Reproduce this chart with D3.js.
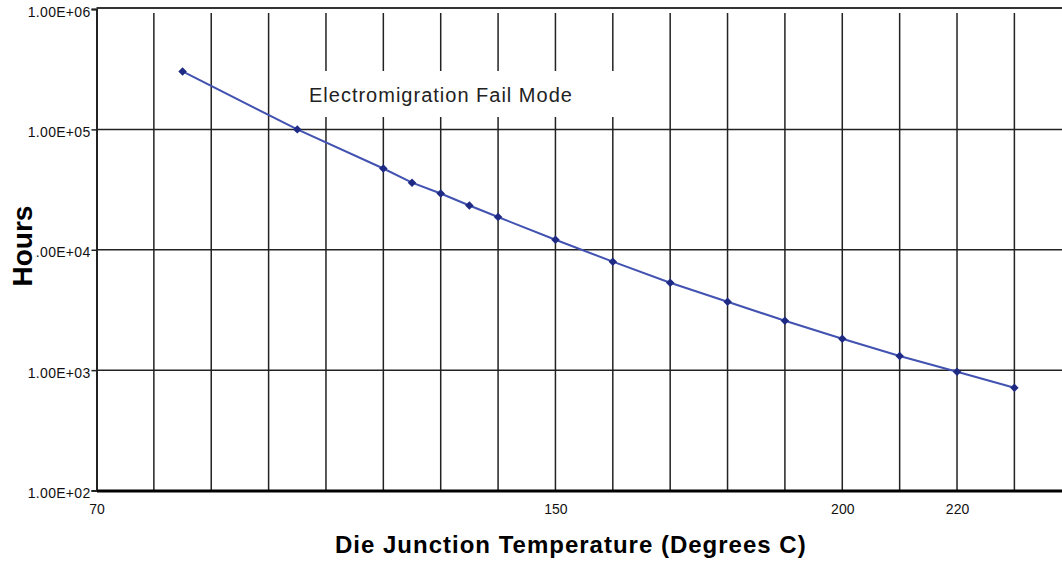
<!DOCTYPE html>
<html>
<head>
	<meta charset="utf-8">
	<script src="https://d3js.org/d3.v7.min.js"></script>
	<style>
		body { margin: 0; background: white; }
		svg { display: block; font-family: "Liberation Sans", Arial, sans-serif; }
	</style>
</head>
<body>
	<svg width="1062" height="567"></svg>
	<script>
		// temperature (deg C) vs hours to fail
		const temps = [85, 105, 120, 125, 130, 135, 140, 150, 160, 170, 180, 190, 200, 210, 220, 230];
		const hours = [303000, 100000, 47300, 36100, 29300, 23300, 18700, 12100, 7960, 5320, 3700, 2570, 1820, 1310, 968, 713];

		const gridTemps = [80, 90, 100, 110, 120, 130, 140, 150, 160, 170, 180, 190, 200, 210, 220, 230];
		const xLabels = [70, 150, 200, 220];
		const yTicks = [1e2, 1e3, 1e4, 1e5, 1e6];

		const data = temps.map((t, i) => ({t: t, h: hours[i]}));

		const svg = d3.select("svg"),
			plotL = 96.5, plotR = 1062, plotT = 9, plotB = 490.5;

		const x = d3.scaleLinear().domain([70, 238.3]).range([plotL, plotR]);
		const y = d3.scaleLog().domain([1e2, 1e6]).range([plotB, plotT]);

		const fmt = v => "1.00E+" + String(Math.round(Math.log10(v))).padStart(2, "0");

		// horizontal grid at each decade
		svg.append("g").selectAll("line")
			.data(yTicks.slice(1, 4))
			.enter().append("line")
			.attr("x1", plotL).attr("x2", plotR)
			.attr("y1", d => y(d)).attr("y2", d => y(d))
			.attr("stroke", "#222").attr("stroke-width", 1.5);

		// top border
		svg.append("line")
			.attr("x1", plotL).attr("x2", plotR)
			.attr("y1", y(1e6) - 1).attr("y2", y(1e6) - 1)
			.attr("stroke", "#333").attr("stroke-width", 2);

		// vertical grid
		svg.append("g").selectAll("line")
			.data(gridTemps)
			.enter().append("line")
			.attr("x1", d => x(d)).attr("x2", d => x(d))
			.attr("y1", plotT + 4).attr("y2", plotB)
			.attr("stroke", "#222").attr("stroke-width", 1.5);

		// left axis
		const yAxis = svg.append("g")
			.attr("transform", `translate(${plotL},0)`)
			.call(d3.axisLeft(y).tickValues(yTicks).tickFormat(fmt).tickSize(5).tickPadding(1));
		yAxis.select(".domain").attr("stroke", "#222").attr("stroke-width", 2);
		yAxis.selectAll(".tick line").attr("stroke", "#222").attr("stroke-width", 1.5);
		yAxis.selectAll("text")
			.attr("font-size", 14).attr("fill", "#111")
			.attr("letter-spacing", 0.3)
			.attr("dy", "0.5em");

		// bottom axis
		const xAxis = svg.append("g")
			.attr("transform", `translate(0,${plotB})`)
			.call(d3.axisBottom(x).tickValues(xLabels).tickSize(0).tickPadding(14));
		xAxis.select(".domain").attr("stroke", "#000").attr("stroke-width", 3);
		xAxis.selectAll("text").attr("font-size", 14).attr("fill", "#111");

		// annotation box
		const note = svg.append("g");
		note.append("rect")
			.attr("x", 300).attr("y", 71).attr("width", 320).attr("height", 46)
			.attr("fill", "white");
		note.append("text")
			.attr("x", 309).attr("y", 102)
			.attr("font-size", 20).attr("letter-spacing", 1).attr("fill", "#222")
			.text("Electromigration Fail Mode");

		// series
		svg.append("path")
			.datum(data)
			.attr("fill", "none")
			.attr("stroke", "#4252b0")
			.attr("stroke-width", 2)
			.attr("d", d3.line().x(d => x(d.t)).y(d => y(d.h)));

		svg.append("g").selectAll("path")
			.data(data)
			.enter().append("path")
			.attr("transform", d => `translate(${x(d.t)},${y(d.h)}) rotate(45)`)
			.attr("d", d3.symbol().type(d3.symbolSquare).size(36))
			.attr("fill", "#1f2a85");

		// axis titles
		svg.append("text")
			.attr("x", 335).attr("y", 553)
			.attr("font-size", 24).attr("font-weight", "bold").attr("letter-spacing", 1)
			.text("Die Junction Temperature (Degrees C)");

		const hLabel = svg.append("g").attr("transform", "translate(32,246) rotate(-90)");
		const hRect = hLabel.append("rect").attr("fill", "white");
		const hText = hLabel.append("text")
			.attr("text-anchor", "middle")
			.attr("font-size", 28).attr("font-weight", "bold")
			.text("Hours");
		const bb = hText.node().getBBox();
		hRect.attr("x", bb.x - 2).attr("y", bb.y + 4).attr("width", bb.width + 4).attr("height", 3 - (bb.y + 4));
	</script>
</body>
</html>
